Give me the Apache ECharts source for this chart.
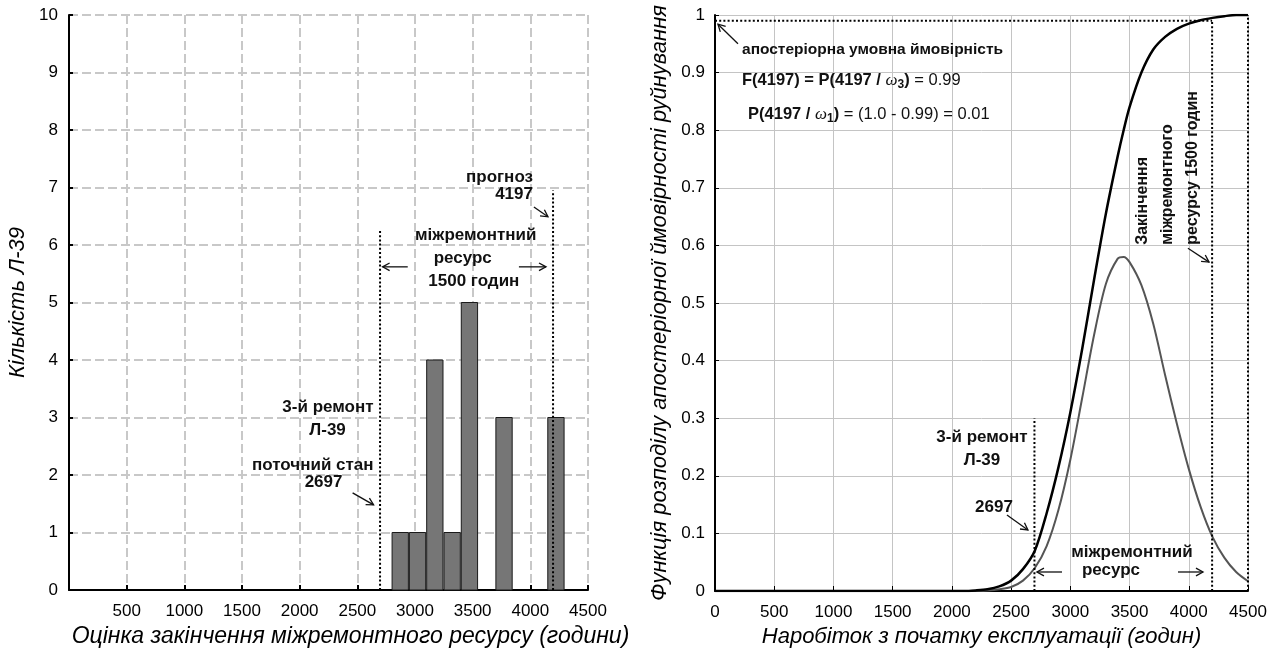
<!DOCTYPE html>
<html><head><meta charset="utf-8">
<script src="https://cdn.jsdelivr.net/npm/echarts@6/dist/echarts.min.js"></script>
<style>html,body{margin:0;padding:0;background:#fff;}#c{width:1282px;height:655px;}</style>
</head><body><div id="c"></div>
<script>
// ---------- Left chart: histogram of estimated end of overhaul resource ----------
const histLow   = [2797, 2947, 3097, 3247, 3397, 3697, 4147];
const histHigh  = [2947, 3097, 3247, 3397, 3547, 3847, 4297];
const histCount = [1, 1, 4, 1, 5, 3, 3];
const leftRefX   = [2697, 4197];
const leftRefTop = [6.25, 6.95];

// ---------- Right chart: posterior distribution ----------
const hours    = [0, 500, 1000, 1500, 2000, 2100, 2200, 2300, 2400, 2500, 2600, 2700, 2800, 2900, 3000, 3100, 3200, 3300, 3400, 3450, 3500, 3600, 3700, 3800, 3900, 4000, 4100, 4200, 4300, 4400, 4500];
const cdfVals  = [0, 0, 0, 0, 0, 0, 0.001, 0.003, 0.008, 0.018, 0.038, 0.07, 0.135, 0.215, 0.31, 0.42, 0.54, 0.655, 0.755, 0.8, 0.84, 0.9, 0.94, 0.962, 0.976, 0.985, 0.991, 0.995, 0.998, 1.0, 1.0];
const postVals = [0, 0, 0, 0, 0, 0, 0.0003, 0.001, 0.003, 0.007, 0.018, 0.04, 0.078, 0.141, 0.228, 0.335, 0.444, 0.533, 0.577, 0.58, 0.571, 0.531, 0.464, 0.375, 0.29, 0.212, 0.146, 0.094, 0.058, 0.033, 0.017];
const rightRefX    = [2697, 4197, 4500];
const rightRefTop  = [0.30, 0.99, 1.0];
const probLevel    = 0.99;

const FONT = '"Liberation Sans", Arial, sans-serif';

const chart = echarts.init(document.getElementById('c'), null, {renderer: 'canvas'});

function dotted(xi, yi, pts) {
  return {type: 'line', xAxisIndex: xi, yAxisIndex: yi, data: pts, symbol: 'none', z: 5,
          lineStyle: {color: '#000', width: 2, type: [2, 2.2]}, silent: true, animation: false};
}

const series = [];
series.push({
  type: 'custom', xAxisIndex: 0, yAxisIndex: 0, z: 3,
  data: histLow.map((l, i) => [l, histHigh[i], histCount[i]]),
  encode: {x: [0, 1], y: 2},
  renderItem: function (params, api) {
    const p0 = api.coord([api.value(0), 0]);
    const p1 = api.coord([api.value(1), api.value(2)]);
    return {type: 'rect',
      shape: {x: p0[0] + 0.5, y: p1[1], width: p1[0] - p0[0] - 1, height: p0[1] - p1[1]},
      style: {fill: '#767676', stroke: '#1a1a1a', lineWidth: 1}};
  }
});
leftRefX.forEach((x, i) => series.push(dotted(0, 0, [[x, 0], [x, leftRefTop[i]]])));

series.push({type: 'line', xAxisIndex: 1, yAxisIndex: 1, data: hours.map((h, i) => [h, postVals[i]]),
  symbol: 'none', smooth: 0.3, lineStyle: {color: '#555', width: 2}, z: 4});
series.push({type: 'line', xAxisIndex: 1, yAxisIndex: 1, data: hours.map((h, i) => [h, cdfVals[i]]),
  symbol: 'none', smooth: 0.3, lineStyle: {color: '#000', width: 2.5}, z: 4});
rightRefX.forEach((x, i) => series.push(dotted(1, 1, [[x, 0], [x, rightRefTop[i]]])));
series.push(dotted(1, 1, [[0, probLevel], [rightRefX[1], probLevel]]));

const labelStyle = {color: '#000', fontSize: 17, fontFamily: FONT};
const nameStyle = {color: '#000', fontSize: 22, fontStyle: 'italic', fontFamily: FONT};

const option = {
  animation: false,
  backgroundColor: '#fff',
  grid: [
    {left: 69, top: 15, width: 519, height: 575},
    {left: 715, top: 15, width: 533, height: 576}
  ],
  xAxis: [
    {gridIndex: 0, type: 'value', min: 0, max: 4500, interval: 500,
     axisLine: {show: true, onZero: false, lineStyle: {color: '#000', width: 2}},
     axisTick: {show: true, inside: true, length: 5, lineStyle: {color: '#000', width: 2}},
     axisLabel: Object.assign({margin: 13, formatter: v => v === 0 ? '' : String(v)}, labelStyle),
     splitLine: {show: true, lineStyle: {color: '#c8c8c8', width: 2, type: [9, 4]}},
     name: 'Оцінка закінчення міжремонтного ресурсу (години)', nameLocation: 'middle', nameGap: 33,
     nameTextStyle: Object.assign({}, nameStyle, {fontSize: 23, padding: [0, 0, 0, 44]})},
    {gridIndex: 1, type: 'value', min: 0, max: 4500, interval: 500,
     axisLine: {show: true, onZero: false, lineStyle: {color: '#000', width: 2}},
     axisTick: {show: true, inside: true, length: 5, lineStyle: {color: '#000', width: 1}},
     axisLabel: Object.assign({margin: 13, formatter: v => String(v)}, labelStyle),
     splitLine: {show: true, lineStyle: {color: '#c4c4c4', width: 1}},
     name: 'Наробіток з початку експлуатації (годин)', nameLocation: 'middle', nameGap: 33,
     nameTextStyle: nameStyle}
  ],
  yAxis: [
    {gridIndex: 0, type: 'value', min: 0, max: 10, interval: 1,
     axisLine: {show: true, onZero: false, lineStyle: {color: '#000', width: 2}},
     axisTick: {show: true, inside: true, length: 4, lineStyle: {color: '#000', width: 2}},
     axisLabel: Object.assign({margin: 11}, labelStyle),
     splitLine: {show: true, lineStyle: {color: '#c8c8c8', width: 2, type: [9, 4]}},
     name: 'Кількість Л-39', nameLocation: 'middle', nameGap: 40, nameTextStyle: nameStyle},
    {gridIndex: 1, type: 'value', min: 0, max: 1, interval: 0.1,
     axisLine: {show: true, onZero: false, lineStyle: {color: '#000', width: 2}},
     axisTick: {show: true, inside: true, length: 4, lineStyle: {color: '#000', width: 1}},
     axisLabel: Object.assign({margin: 10}, labelStyle),
     splitLine: {show: true, lineStyle: {color: '#c4c4c4', width: 1}},
     name: 'Функція розподілу апостеріорної ймовірності руйнування', nameLocation: 'middle', nameGap: 44,
     nameTextStyle: nameStyle}
  ],
  series: series
};
chart.setOption(option);

// ---------- Annotations (positioned in data coordinates) ----------
function P(g, x, y) { return chart.convertToPixel({gridIndex: g}, [x, y]); }
const BOLD = 'bold 17px ' + FONT;
const BOLD_S = 'bold 15.5px ' + FONT;
const BOLD_F = 'bold 16.5px ' + FONT;
const NORM_F = '16.5px ' + FONT;
const g = [];
function txt(gi, x, y, text, align, font) {
  const p = P(gi, x, y);
  g.push({type: 'text', x: p[0], y: p[1], z: 100,
    style: {text: text, font: font || BOLD, fill: '#111', align: align || 'center', verticalAlign: 'middle'}});
}
function vtxt(gi, x, y, text) {
  const p = P(gi, x, y);
  g.push({type: 'text', x: p[0], y: p[1], rotation: Math.PI / 2, z: 100,
    style: {text: text, font: 'bold 16px ' + FONT, fill: '#111', align: 'left', verticalAlign: 'middle'}});
}
function arrow(gi, x0, y0, x1, y1) {
  const a = P(gi, x0, y0), b = P(gi, x1, y1);
  const ang = Math.atan2(b[1] - a[1], b[0] - a[0]);
  const L = 8, s = 0.5;
  const c1 = [b[0] - L * Math.cos(ang - s), b[1] - L * Math.sin(ang - s)];
  const c2 = [b[0] - L * Math.cos(ang + s), b[1] - L * Math.sin(ang + s)];
  g.push({type: 'polyline', z: 100, shape: {points: [a, b]}, style: {stroke: '#111', lineWidth: 1.3, fill: null}});
  g.push({type: 'polyline', z: 100, shape: {points: [c1, b, c2]}, style: {stroke: '#111', lineWidth: 1.3, fill: null}});
}
function rich(gi, x, y, text) {
  const p = P(gi, x, y);
  g.push({type: 'text', x: p[0], y: p[1], z: 100,
    style: {text: text, fill: '#111', align: 'left', verticalAlign: 'middle',
      rich: {
        b: {font: BOLD_F, lineHeight: 22, verticalAlign: 'middle', fill: '#111'},
        n: {font: NORM_F, lineHeight: 22, verticalAlign: 'middle', fill: '#111'},
        w: {font: 'italic 17px "Liberation Serif", serif', lineHeight: 22, verticalAlign: 'middle', fill: '#111'},
        s: {font: 'bold 12px ' + FONT, lineHeight: 12, verticalAlign: 'bottom', fill: '#111'}
      }}});
}

// left chart
txt(0, 4023, 7.17, 'прогноз', 'right');
txt(0, 4023, 6.89, '4197', 'right');
arrow(0, 4031, 6.66, 4153, 6.49);
txt(0, 3527, 6.17, 'міжремонтний');
txt(0, 3414, 5.76, 'ресурс');
txt(0, 3510, 5.37, '1500 годин');
arrow(0, 2937, 5.62, 2719, 5.62);
arrow(0, 3901, 5.62, 4136, 5.62);
txt(0, 2641, 3.17, '3-й ремонт', 'right');
txt(0, 2242, 2.78, 'Л-39');
txt(0, 2641, 2.16, 'поточний стан', 'right');
txt(0, 2207, 1.88, '2697');
arrow(0, 2459, 1.69, 2641, 1.48);

// right chart
arrow(1, 194, 0.95, 25, 0.984);
txt(1, 228, 0.939, 'апостеріорна умовна ймовірність', 'left', BOLD_S);
rich(1, 228, 0.887, '{b|F(4197) = P(4197 / }{w|ω}{s|3}{b|)}{n| = 0.99}');
rich(1, 279, 0.828, '{b|P(4197 / }{w|ω}{s|1}{b|)}{n| = (1.0 - 0.99) = 0.01}');
vtxt(1, 3613, 0.601, 'Закінчення');
vtxt(1, 3824, 0.601, 'міжремонтного');
vtxt(1, 4035, 0.601, 'ресурсу 1500 годин');
arrow(1, 3993, 0.595, 4171, 0.571);
txt(1, 2254, 0.267, '3-й ремонт');
txt(1, 2254, 0.227, 'Л-39');
txt(1, 2355, 0.146, '2697');
arrow(1, 2465, 0.132, 2642, 0.106);
txt(1, 3520, 0.068, 'міжремонтний');
txt(1, 3343, 0.036, 'ресурс');
arrow(1, 2930, 0.033, 2718, 0.033);
arrow(1, 3909, 0.033, 4120, 0.033);

chart.setOption({graphic: g});
</script>
</body></html>
